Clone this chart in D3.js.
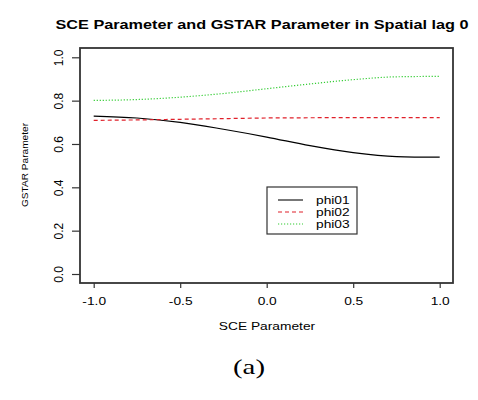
<!DOCTYPE html>
<meta charset="utf-8">
<html>
<head>
<script src="https://d3js.org/d3.v7.min.js"></script>
<style>
    body { margin: 0; background: white; }
    text { font-family: "Liberation Sans", Arial, sans-serif; fill: black; }
</style>
</head>
<body>
<div id="chartdiv"></div>
<script>

// data
var sceVals = [-1.0, -0.75, -0.5, -0.25, 0.0, 0.25, 0.5, 0.75, 1.0];
var phi01 = [0.729, 0.720, 0.700, 0.668, 0.632, 0.592, 0.560, 0.542, 0.539];
var phi02 = [0.709, 0.711, 0.714, 0.717, 0.720, 0.721, 0.722, 0.722, 0.722];
var phi03 = [0.801, 0.805, 0.816, 0.833, 0.855, 0.877, 0.897, 0.910, 0.912];
var xTicks = [-1.0, -0.5, 0.0, 0.5, 1.0];
var yTicks = [0.0, 0.2, 0.4, 0.6, 0.8, 1.0];
var seriesNames = ["phi01", "phi02", "phi03"];

const W = 478, H = 400;
var boxL = 80, boxR = 453, boxT = 48, boxB = 283;
const stretchX = 1.25;   // the picture's text is a bit wider than normal

var x = d3.scaleLinear().domain([-1, 1]).range([93.7, 439.7]);
var y = d3.scaleLinear().domain([0, 1]).range([274, 57.3]);

var svg = d3.select("#chartdiv").append("svg")
    .attr("width", W).attr("height", H);

// widen horizontal text to match the reference
var widen = function(sel) {
    sel.each(function() {
        var len = this.getComputedTextLength();
        d3.select(this).attr("textLength", len * stretchX)
            .attr("lengthAdjust", "spacingAndGlyphs");
    });
};

// title
svg.append("text")
    .attr("x", 262).attr("y", 29)
    .attr("text-anchor", "middle")
    .attr("textLength", 413).attr("lengthAdjust", "spacingAndGlyphs")
    .style("font-size", "13px").style("font-weight", "700")
    .text("SCE Parameter and GSTAR Parameter in Spatial lag 0");

// x axis
var xAxis = svg.append("g")
    .attr("transform", "translate(0," + boxB + ")")
    .call(d3.axisBottom(x).tickValues(xTicks).tickSize(5).tickPadding(9)
        .tickFormat(d3.format(".1f")));
xAxis.select(".domain").remove();
xAxis.selectAll("line").attr("stroke", "#333").attr("stroke-width", 1.2);
xAxis.selectAll("text").style("font-size", "11px").attr("fill", "black")
    .text(d => d3.format(".1f")(d).replace("−", "-"))
    .call(widen);

// y axis, labels rotated like R's default
var yAxis = svg.append("g")
    .attr("transform", "translate(" + boxL + ",0)")
    .call(d3.axisLeft(y).tickValues(yTicks).tickSize(8).tickFormat(d3.format(".1f")));
yAxis.select(".domain").remove();
yAxis.selectAll("line").attr("stroke", "#333").attr("stroke-width", 1.2);
yAxis.selectAll("text")
    .style("font-size", "12px").attr("fill", "black")
    .attr("text-anchor", "middle")
    .attr("x", 0).attr("dy", 0)
    .attr("transform", "translate(-21,0) rotate(-90)")
    .attr("y", 4);

// box
svg.append("rect")
    .attr("x", boxL).attr("y", boxT)
    .attr("width", boxR - boxL).attr("height", boxB - boxT)
    .attr("fill", "none").attr("stroke", "#333").attr("stroke-width", 1.8);

// axis titles
svg.append("text")
    .attr("x", 267).attr("y", 330)
    .attr("text-anchor", "middle")
    .style("font-size", "11px")
    .text("SCE Parameter")
    .call(widen);

svg.append("text")
    .attr("transform", "translate(28,165) rotate(-90)")
    .attr("text-anchor", "middle")
    .attr("textLength", 84).attr("lengthAdjust", "spacingAndGlyphs")
    .style("font-size", "9.5px")
    .text("GSTAR Parameter");

// lines
var styles = [
    { color: "black", dash: null, width: 1.2 },
    { color: "#e0202a", dash: "4,3", width: 1.2 },
    { color: "#33cc33", dash: "1.2,1.8", width: 1.2 }
];
var allSeries = [phi01, phi02, phi03];

var line = d3.line()
    .x((d, i) => x(sceVals[i]))
    .y(d => y(d))
    .curve(d3.curveMonotoneX);

svg.selectAll(".series")
    .data(allSeries)
    .enter().append("path")
    .attr("class", "series")
    .attr("d", line)
    .attr("fill", "none")
    .attr("stroke", (d, i) => styles[i].color)
    .attr("stroke-width", (d, i) => styles[i].width)
    .attr("stroke-dasharray", (d, i) => styles[i].dash);

// legend
var leg = svg.append("g");
leg.append("rect")
    .attr("x", 267).attr("y", 187)
    .attr("width", 90).attr("height", 47)
    .attr("fill", "white").attr("stroke", "#333").attr("stroke-width", 1.2);

var legRows = leg.selectAll(".row")
    .data(seriesNames)
    .enter().append("g")
    .attr("transform", (d, i) => "translate(0," + (200 + i * 12) + ")");
legRows.append("line")
    .attr("x1", 278).attr("x2", 303)
    .attr("stroke", (d, i) => i === 0 ? "#777" : styles[i].color)
    .attr("stroke-width", (d, i) => i === 0 ? 2 : styles[i].width)
    .attr("stroke-dasharray", (d, i) => styles[i].dash);
legRows.append("text")
    .attr("x", 316).attr("y", 4)
    .style("font-size", "11px")
    .text(d => d)
    .call(widen);

// caption
svg.append("text")
    .attr("x", 249).attr("y", 374)
    .attr("text-anchor", "middle")
    .attr("textLength", 32).attr("lengthAdjust", "spacingAndGlyphs")
    .style("font-family", "'Liberation Serif', 'Times New Roman', serif")
    .style("font-size", "21px")
    .text("(a)");

</script>
</body>
</html>
